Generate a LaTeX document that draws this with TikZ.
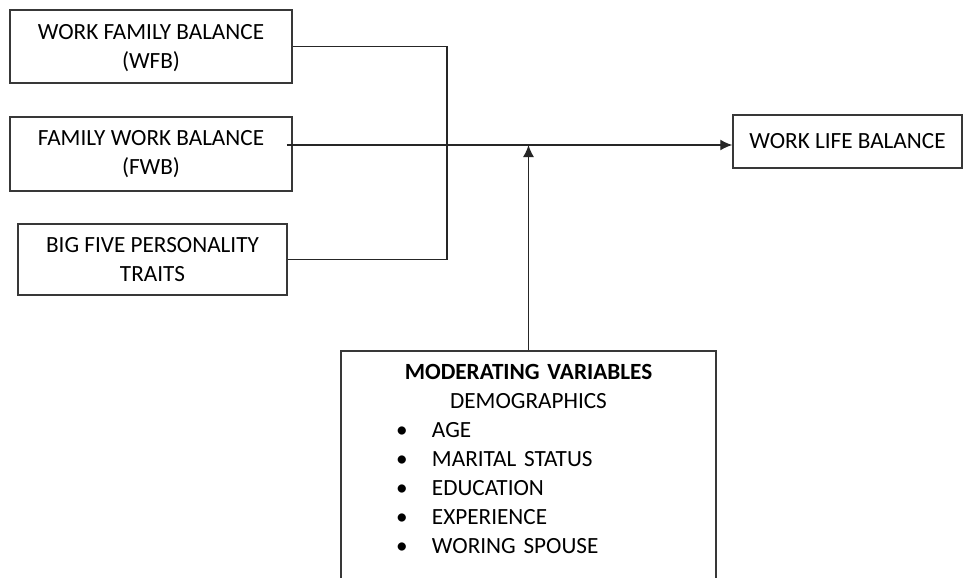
\documentclass[tikz,border=0pt]{standalone}
\usepackage{fontspec}
\setmainfont{Carlito}
\usepackage{tikz}
\usetikzlibrary{positioning,shapes,arrows,arrows.meta,calc}
\definecolor{boxline}{rgb}{0.22,0.22,0.22}
\tikzstyle{var}=[%
      rectangle, draw=boxline, line width=0.75pt, fill=none,
      font=\fontsize{11.6}{14.5}\selectfont, align=center, inner sep=0pt
]
\tikzstyle{link}=[%
      draw=black!85, line width=0.7pt
]
\newcommand{\moditem}[1]{\makebox[132.5pt][l]{\makebox[18pt][l]{\textbullet}#1}}

\begin{document}
\begin{tikzpicture}[x=0.5pt, y=-0.5pt,
    >={Latex[length=6pt,width=5.5pt]}
  ]
    \clip (0,0) rectangle (964,578);
    \fill[white] (0,0) rectangle (964,578);

    \node[var, minimum width=141pt, minimum height=36.5pt, text depth=0pt] (wfb) at (151,46.5)  {WORK FAMILY BALANCE\\(WFB)};
    \node[var, minimum width=141pt, minimum height=37pt]     (fwb) at (151,154)   {FAMILY WORK BALANCE\\(FWB)};
    \node[var, minimum width=134.5pt, minimum height=35.5pt] (bft) at (152.5,259.5) {BIG FIVE PERSONALITY\\TRAITS};
    \node[var, minimum width=114.5pt, minimum height=26.5pt] (wlb) at (847.5,141.5) {WORK LIFE BALANCE};
    \node[var, anchor=north, text width=187.5pt, inner ysep=7pt] (mod) at (528.5,350)
        {\textbf{MODERATING VARIABLES}\\
         DEMOGRAPHICS\\
         \moditem{AGE}\\
         \moditem{MARITAL STATUS}\\
         \moditem{EDUCATION}\\
         \moditem{EXPERIENCE}\\
         \moditem{WORING SPOUSE}\rule[-40pt]{0pt}{0pt}};

    \coordinate (merge) at (447,46.5);
    \coordinate (fwbout) at ([yshift=4.5pt]fwb.east);

    \draw[link] (wfb.east) -- (merge) |- (bft.east);
    \draw[link, ->] ([xshift=-3pt]fwbout) -- (fwbout -| wlb.west);
    \draw[link, ->] (mod.north) -- (mod.north |- fwbout);
\end{tikzpicture}
\end{document}
